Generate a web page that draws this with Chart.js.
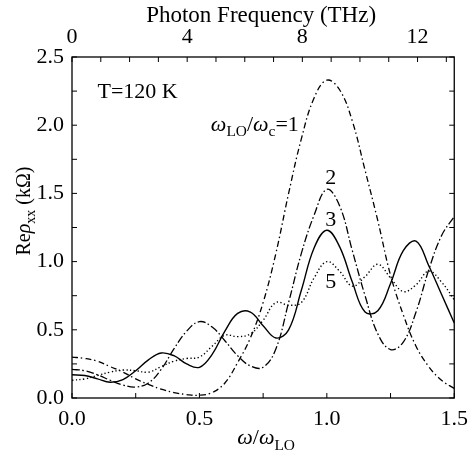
<!DOCTYPE html>
<html>
<head>
<meta charset="utf-8">
<script src="https://cdn.jsdelivr.net/npm/chart.js@4.4.0/dist/chart.umd.min.js"></script>
<style>
  html, body { margin: 0; padding: 0; background: #fff; }
  #wrap { width: 476px; height: 453px; }
</style>
</head>
<body>
<div id="wrap"><canvas id="myChart"></canvas></div>
<script>
// omega / omega_LO sample points
const omega = [0, 0.05, 0.1, 0.15, 0.2, 0.25, 0.3, 0.35, 0.4, 0.45, 0.5, 0.55, 0.6, 0.65, 0.7, 0.75,
               0.8, 0.85, 0.9, 0.95, 1.0, 1.05, 1.1, 1.15, 1.2, 1.25, 1.3, 1.35, 1.4, 1.45, 1.5];

// Re rho_xx (kOhm) for omega_LO/omega_c = 1, 2, 3, 5
const rho1 = [0.30, 0.29, 0.27, 0.23, 0.19, 0.14, 0.10, 0.065, 0.04, 0.025, 0.02, 0.04, 0.11, 0.26, 0.44, 0.70,
              1.06, 1.50, 1.90, 2.20, 2.33, 2.26, 2.03, 1.67, 1.30, 0.90, 0.61, 0.38, 0.23, 0.13, 0.07];
const rho2 = [0.21, 0.20, 0.17, 0.13, 0.095, 0.08, 0.11, 0.21, 0.36, 0.49, 0.56, 0.52, 0.42, 0.31, 0.235, 0.225,
              0.36, 0.70, 1.06, 1.34, 1.53, 1.41, 1.08, 0.75, 0.47, 0.355, 0.41, 0.63, 0.94, 1.19, 1.33];
const rho3 = [0.17, 0.165, 0.14, 0.115, 0.135, 0.20, 0.28, 0.33, 0.31, 0.25, 0.225, 0.32, 0.49, 0.62, 0.63, 0.53,
              0.44, 0.50, 0.79, 1.10, 1.23, 1.11, 0.85, 0.63, 0.64, 0.84, 1.08, 1.15, 0.97, 0.76, 0.55];
const rho5 = [0.13, 0.14, 0.165, 0.19, 0.205, 0.20, 0.19, 0.23, 0.27, 0.29, 0.30, 0.38, 0.46, 0.45, 0.47, 0.57,
              0.70, 0.68, 0.70, 0.88, 1.00, 0.93, 0.82, 0.89, 0.98, 0.88, 0.78, 0.83, 0.93, 0.85, 0.72];

const ratioLabels = ['1', '2', '3', '5'];
const thzLabels = [0, 4, 8, 12];
const omegaLO = 8.85; // THz

const FONT = '"Liberation Serif", "Times New Roman", serif';

function pts(arr) {
  return omega.map((w, i) => ({ x: w, y: arr[i] }));
}

function line(arr, dash, width) {
  return {
    data: pts(arr),
    borderColor: '#000',
    borderWidth: width,
    borderDash: dash,
    pointRadius: 0,
    tension: 0.4,
    fill: false
  };
}

// draws text pieces with subscripts / italics
function drawRich(ctx, parts, x, y, align, fs) {
  const fontOf = p => (p.i ? 'italic ' : '') + (p.sub ? fs * 0.7 : fs) + 'px ' + FONT;
  const widths = parts.map(p => {
    ctx.font = fontOf(p);
    return ctx.measureText(p.t).width;
  });
  const total = widths.reduce((a, b) => a + b, 0);
  let cx = align === 'left' ? x : align === 'right' ? x - total : x - total / 2;
  ctx.textBaseline = 'alphabetic';
  ctx.textAlign = 'left';
  parts.forEach((p, k) => {
    ctx.font = fontOf(p);
    ctx.fillText(p.t, cx, y + (p.sub ? fs * 0.25 : 0));
    cx += widths[k];
  });
}

const frame = {
  id: 'frame',
  afterDraw(chart) {
    const ctx = chart.ctx;
    const a = chart.chartArea;
    const sx = chart.scales.x, sx2 = chart.scales.x2, sy = chart.scales.y;
    ctx.save();
    ctx.strokeStyle = '#000';
    ctx.lineWidth = 1.3;
    ctx.strokeRect(a.left, a.top, a.right - a.left, a.bottom - a.top);
    ctx.lineWidth = 1;
    ctx.beginPath();
    sx.ticks.forEach(t => {
      const p = sx.getPixelForValue(t.value);
      ctx.moveTo(p, a.bottom); ctx.lineTo(p, a.bottom - 5);
    });
    sx2.ticks.forEach(t => {
      const p = sx2.getPixelForValue(t.value);
      ctx.moveTo(p, a.top); ctx.lineTo(p, a.top + 5);
    });
    sy.ticks.forEach(t => {
      const p = sy.getPixelForValue(t.value);
      ctx.moveTo(a.left, p); ctx.lineTo(a.left + 5, p);
      ctx.moveTo(a.right, p); ctx.lineTo(a.right - 5, p);
    });
    ctx.stroke();

    ctx.fillStyle = '#000';
    // axis titles
    drawRich(ctx, [{ t: 'Photon Frequency (THz)' }], (a.left + a.right) / 2 - 2, 22, 'center', 23);
    drawRich(ctx, [{ t: 'ω', i: true }, { t: '/' }, { t: 'ω', i: true }, { t: 'LO', sub: true }],
      (a.left + a.right) / 2 + 3, 444, 'center', 22);
    ctx.save();
    ctx.translate(30, 211);
    ctx.rotate(-Math.PI / 2);
    drawRich(ctx, [{ t: 'Re' }, { t: 'ρ', i: true }, { t: 'xx', sub: true }, { t: ' (kΩ)' }], 0, 0, 'center', 20);
    ctx.restore();

    // annotations
    drawRich(ctx, [{ t: 'T=120 K' }], sx.getPixelForValue(0.1), sy.getPixelForValue(2.2), 'left', 22);
    drawRich(ctx, [{ t: 'ω', i: true }, { t: 'LO', sub: true }, { t: '/' }, { t: 'ω', i: true }, { t: 'c', sub: true },
      { t: '=' + ratioLabels[0] }], sx.getPixelForValue(0.89), sy.getPixelForValue(1.96), 'right', 22);
    drawRich(ctx, [{ t: ratioLabels[1] }], sx.getPixelForValue(1.015), sy.getPixelForValue(1.57), 'center', 22);
    drawRich(ctx, [{ t: ratioLabels[2] }], sx.getPixelForValue(1.015), sy.getPixelForValue(1.26), 'center', 22);
    drawRich(ctx, [{ t: ratioLabels[3] }], sx.getPixelForValue(1.015), sy.getPixelForValue(0.81), 'center', 22);
    ctx.restore();
  }
};

const tickFont = { family: FONT, size: 22 };

new Chart(document.getElementById('myChart'), {
  type: 'line',
  data: {
    datasets: [
      line(rho1, [6, 3, 1.5, 3], 1.3),
      line(rho2, [8, 2.5, 1.5, 2.5], 1.3),
      line(rho3, [], 1.4),
      line(rho5, [1.3, 2.4], 1.4)
    ]
  },
  options: {
    responsive: true,
    maintainAspectRatio: false,
    animation: false,
    layout: { padding: 0 },
    plugins: { legend: { display: false }, tooltip: { enabled: false } },
    scales: {
      x: {
        type: 'linear', position: 'bottom', min: 0, max: 1.5,
        grid: { display: false, drawTicks: false }, border: { display: false },
        ticks: {
          stepSize: 0.25, autoSkip: false, maxRotation: 0, padding: 8, color: '#000', font: tickFont,
          callback: v => Math.abs(v * 2 - Math.round(v * 2)) < 1e-6 ? v.toFixed(1) : ''
        },
        afterFit: s => { s.height = 55; }
      },
      x2: {
        type: 'linear', position: 'top', min: 0, max: 1.5 * omegaLO,
        grid: { display: false, drawTicks: false }, border: { display: false },
        ticks: {
          stepSize: 1, autoSkip: false, maxRotation: 0, padding: 7, color: '#000', font: tickFont,
          includeBounds: false,
          callback: v => thzLabels.includes(v) ? String(v) : ''
        },
        afterFit: s => { s.height = 57; }
      },
      y: {
        type: 'linear', position: 'left', min: 0, max: 2.5,
        grid: { display: false, drawTicks: false }, border: { display: false },
        ticks: {
          stepSize: 0.25, autoSkip: false, padding: 8, color: '#000', font: tickFont,
          callback: v => Math.abs(v * 2 - Math.round(v * 2)) < 1e-6 ? v.toFixed(1) : ''
        },
        afterFit: s => { s.width = 72; }
      },
      y2: {
        type: 'linear', position: 'right', min: 0, max: 2.5,
        grid: { display: false, drawTicks: false }, border: { display: false },
        ticks: { display: false },
        afterFit: s => { s.width = 17; }
      }
    }
  },
  plugins: [frame]
});
</script>
</body>
</html>
